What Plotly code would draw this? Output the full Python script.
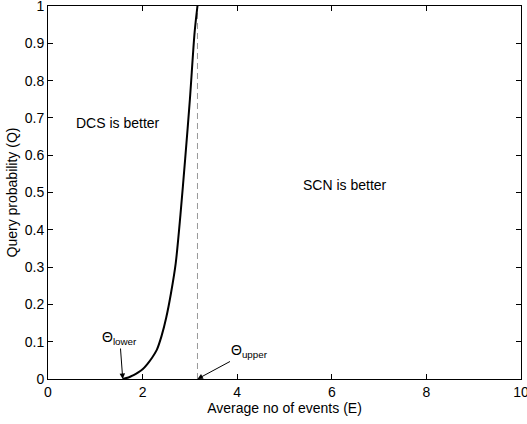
import plotly.graph_objects as go

E_curve = [1.58, 1.7, 1.8, 1.9, 2.0, 2.1, 2.2, 2.3, 2.4, 2.5, 2.6, 2.7, 2.8, 2.9, 3.0, 3.1, 3.16]
Q_curve = [0.0, 0.004, 0.01, 0.017, 0.026, 0.04, 0.057, 0.078, 0.115, 0.165, 0.23, 0.31, 0.44, 0.59, 0.75, 0.93, 1.0]
E_upper = 3.16
E_lower = 1.58

x_ticks = [0, 2, 4, 6, 8, 10]
y_ticks = [0, 0.1, 0.2, 0.3, 0.4, 0.5, 0.6, 0.7, 0.8, 0.9, 1]
y_ticklabels = ["0", "0.1", "0.2", "0.3", "0.4", "0.5", "0.6", "0.7", "0.8", "0.9", "1"]

font = "Liberation Sans, Arial, sans-serif"
fs = 14

fig = go.Figure()
fig.add_trace(go.Scatter(x=[E_upper, E_upper], y=[0, 1], mode="lines",
                         line=dict(color="#999999", width=1, dash="6px,4px"),
                         showlegend=False, hoverinfo="skip"))
fig.add_trace(go.Scatter(x=E_curve, y=Q_curve, mode="lines",
                         line=dict(color="black", width=2, shape="spline", smoothing=0.8),
                         showlegend=False))

fig.add_annotation(x=1.48, y=0.686, text="DCS is better", showarrow=False,
                   font=dict(size=fs, color="black", family=font))
fig.add_annotation(x=6.28, y=0.52, text="SCN is better", showarrow=False,
                   font=dict(size=fs, color="black", family=font))
fig.add_annotation(x=E_lower, y=0, text="Θ<sub>lower</sub>", showarrow=True,
                   ax=-3, ay=-41, arrowhead=2, arrowsize=1.1, arrowwidth=1,
                   arrowcolor="black", standoff=0,
                   font=dict(size=fs, color="black", family=font))
fig.add_annotation(x=E_upper, y=0, text="Θ<sub>upper</sub>", showarrow=True,
                   ax=52, ay=-28, arrowhead=2, arrowsize=1.1, arrowwidth=1,
                   arrowcolor="black", standoff=0,
                   font=dict(size=fs, color="black", family=font))

axis_common = dict(showline=True, linecolor="black", linewidth=1, mirror="ticks",
                   ticks="inside", ticklen=5, tickcolor="black", showgrid=False,
                   zeroline=False, ticklabeloverflow="allow", automargin=False,
                   tickfont=dict(size=fs, color="black", family=font))

fig.update_xaxes(range=[0, 10], tickvals=x_ticks, ticktext=[str(v) for v in x_ticks],
                 title=dict(text="Average no of events (E)", standoff=2,
                            font=dict(size=fs, color="black", family=font)),
                 **axis_common)
fig.update_yaxes(range=[0, 1], tickvals=y_ticks, ticktext=y_ticklabels,
                 title=dict(text="Query probability (Q)", standoff=3,
                            font=dict(size=fs, color="black", family=font)),
                 **axis_common)

fig.update_layout(width=527, height=424, margin=dict(l=48, r=6, t=6, b=45),
                  paper_bgcolor="white", plot_bgcolor="white")

fig.write_html("out.html")
